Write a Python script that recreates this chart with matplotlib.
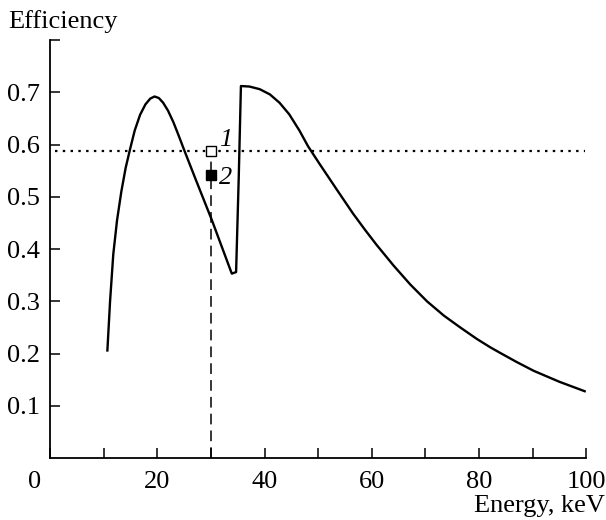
import matplotlib
matplotlib.use("Agg")
import matplotlib.pyplot as plt
import matplotlib.transforms as mtransforms

plt.rcParams['font.family'] = ['Liberation Serif', 'DejaVu Serif']

# Detector efficiency versus photon energy
energy = [10.7, 11.2, 11.8, 12.5, 13.3, 14.1, 14.9, 15.8, 16.8, 17.8, 18.7, 19.5,
          20.3, 21.1, 22.0, 23.0, 24.0, 25.0, 27.1, 30.2, 33.9, 34.7, 35.2, 35.6,
          37.2, 39.1, 41.0, 42.8, 44.6, 46.5, 48.1, 50.2, 53.4, 56.5, 58.8, 60.9,
          64.1, 67.2, 70.3, 73.4, 76.5, 79.6, 82.1, 84.0, 87.0, 90.2, 95.0, 99.7]
efficiency = [0.206, 0.300, 0.390, 0.455, 0.510, 0.555, 0.590, 0.627, 0.657, 0.677,
              0.688, 0.692, 0.689, 0.680, 0.665, 0.643, 0.617, 0.590, 0.535, 0.455,
              0.353, 0.356, 0.540, 0.712, 0.711, 0.706, 0.696, 0.680, 0.658, 0.627,
              0.597, 0.564, 0.515, 0.468, 0.436, 0.408, 0.368, 0.332, 0.300, 0.273,
              0.250, 0.228, 0.212, 0.201, 0.184, 0.167, 0.146, 0.128]

ref_level = 0.587
marker_energy = 30
point1 = 0.587
point2 = 0.542

xticks = [0, 20, 40, 60, 80, 100]
xminor = [10, 30, 50, 70, 90]
yticks = [0.1, 0.2, 0.3, 0.4, 0.5, 0.6, 0.7, 0.8]
ylabels = ['0.1', '0.2', '0.3', '0.4', '0.5', '0.6', '0.7', '']

FS = 19

fig = plt.figure(figsize=(6.06, 5.2), dpi=100)
ax = fig.add_axes([0.0825, 0.119, 0.885, 0.804])

ax.plot(energy, efficiency, color='black', lw=1.7, solid_joinstyle='round')
ax.plot([1, 99.7], [ref_level, ref_level], color='black', lw=1.6,
        linestyle=(0, (1.1, 2.4)))
ax.plot([marker_energy, marker_energy], [0, point1 - 0.012], color='black', lw=1.1,
        linestyle=(0, (7, 4)))
ax.plot([marker_energy], [point1], marker='s', ms=7, mfc='white', mec='black', mew=1.0)
ax.plot([marker_energy], [point2], marker='s', ms=7, mfc='black', mec='black', mew=1.0)
ax.text(marker_energy + 1.5, point1 + 0.022, '1', fontsize=FS, style='italic',
        ha='left', va='center')
ax.text(marker_energy + 1.5, point2 - 0.006, '2', fontsize=FS, style='italic',
        ha='left', va='center')

ax.set_xlim(0, 100)
ax.set_ylim(0, 0.8)
ax.set_xticks(xticks)
ax.set_xticks(xminor, minor=True)
ax.set_yticks(yticks)
ax.set_yticklabels(ylabels)
ax.tick_params(axis='both', which='both', direction='in', length=7, width=1.1,
               labelsize=FS, color='black')
ax.tick_params(axis='x', pad=9)
ax.tick_params(axis='y', pad=7)
for s in ['top', 'right']:
    ax.spines[s].set_visible(False)
for s in ['left', 'bottom']:
    ax.spines[s].set_linewidth(1.3)

# shift the origin label left of the corner
lbl0 = ax.get_xticklabels()[0]
lbl0.set_transform(lbl0.get_transform() +
                   mtransforms.ScaledTranslation(-15 / 100, 0, fig.dpi_scale_trans))

fig.text(8 / 606, 1 - 28 / 520, 'Efficiency', fontsize=FS, ha='left', va='baseline')
fig.text(605 / 606, 1 - 512 / 520, 'Energy, keV', fontsize=FS, ha='right', va='baseline')

fig.savefig('out.png', dpi=100)
